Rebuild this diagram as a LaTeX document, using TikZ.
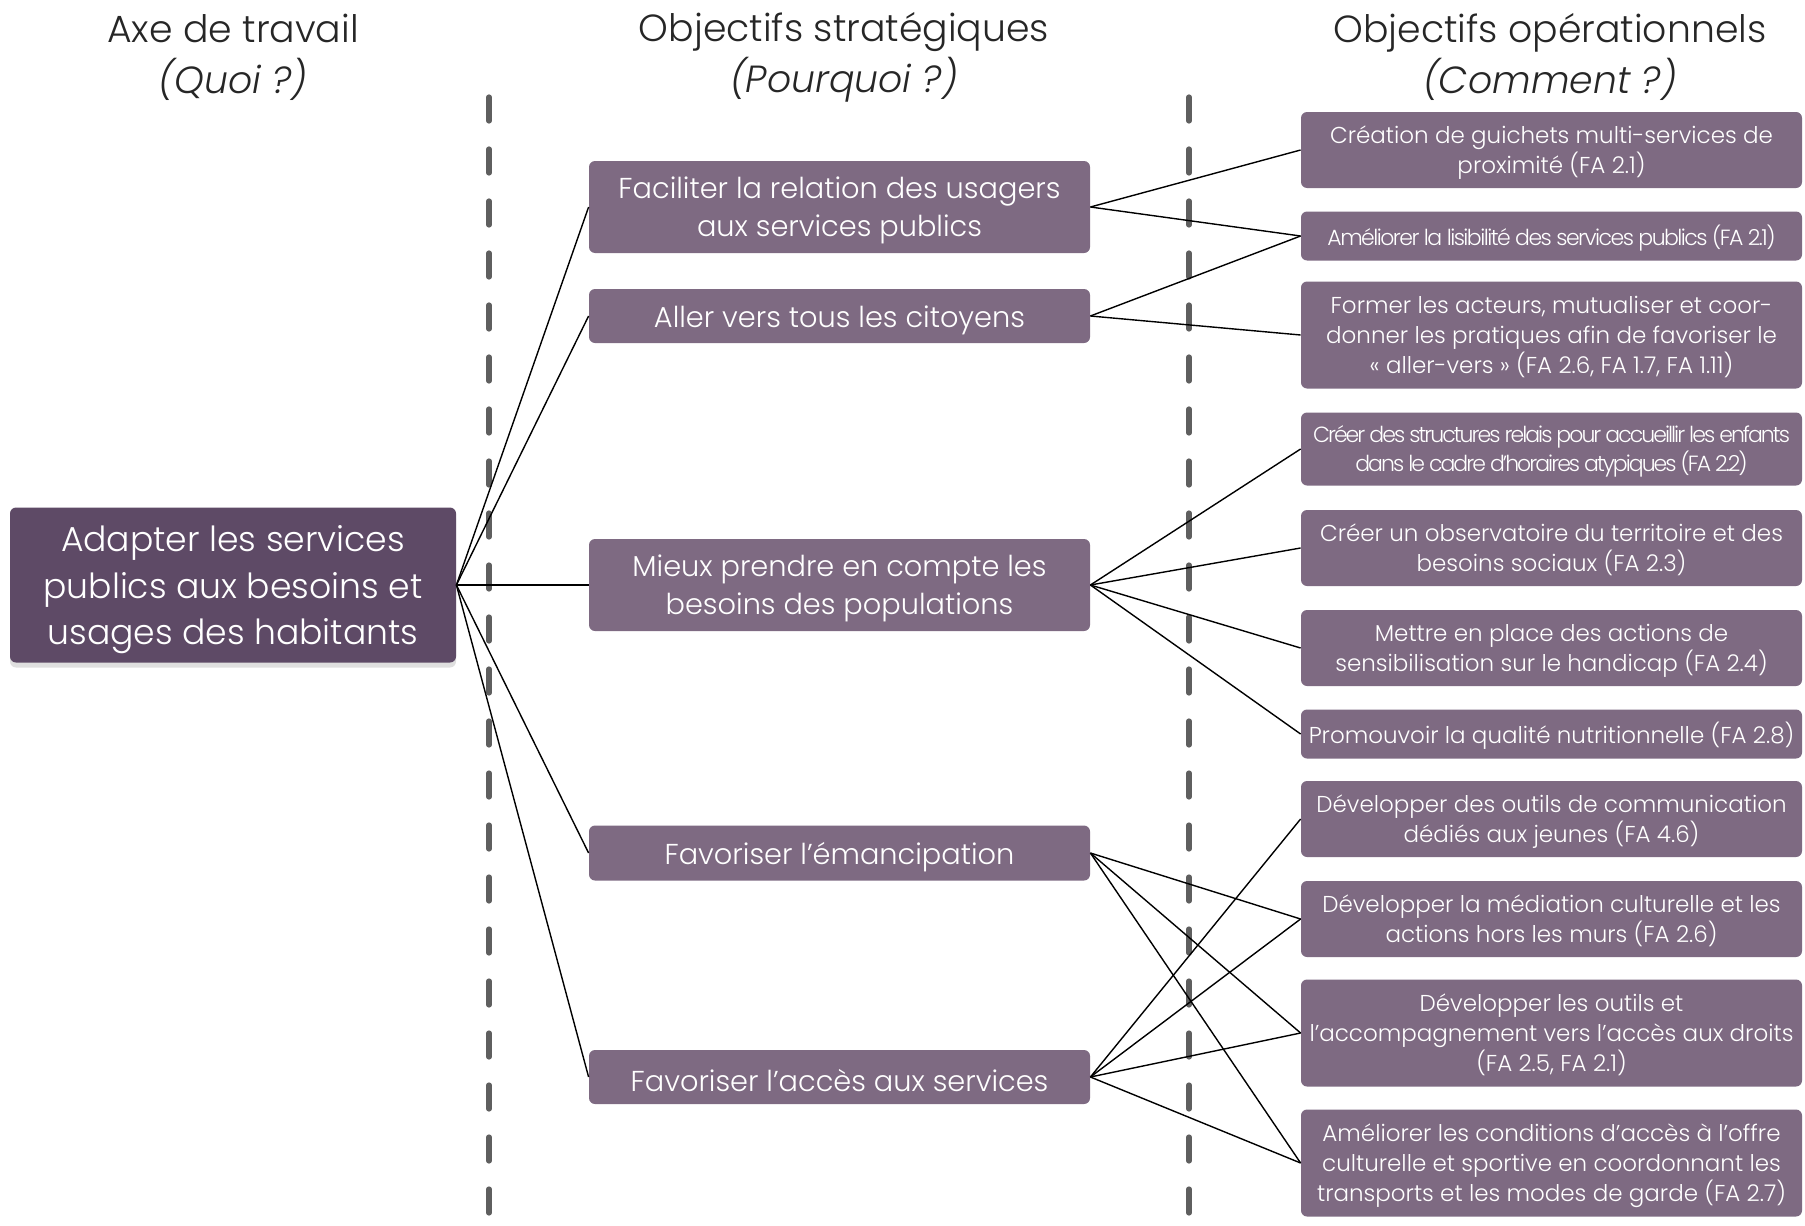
\documentclass[tikz,border=0pt]{standalone}
\usepackage{fontspec}
\setmainfont{Poppins}[UprightFont=* Light, ItalicFont=* Light Italic]
\usetikzlibrary{shadows}

\definecolor{plum}{HTML}{7E6A82}
\definecolor{darkplum}{HTML}{5E4A66}
\definecolor{sepgray}{HTML}{5F5F5F}

\begin{document}
\begin{tikzpicture}[x=0.5pt, y=-0.5pt,
    box/.style={fill=plum, rounded corners=3pt, text=white, align=center,
    inner sep=1pt},
    low/.style={text depth=#1},
    axis/.style={box, fill=darkplum, minimum width=223pt, minimum height=77.5pt,
    font=\fontsize{17.3}{23.3}\selectfont, low=-1.5pt,
    drop shadow={shadow xshift=0pt, shadow yshift=-2.5pt, opacity=0.25}},
    strat/.style={box, minimum width=250.5pt, font=\fontsize{14.4}{19}\selectfont,
    execute at begin node={\rule{0pt}{15pt}}},
    oper/.style={box, minimum width=250.5pt, font=\fontsize{11.5}{15}\selectfont,
    execute at begin node={\rule{0pt}{12.5pt}}},
    tight/.style={font=\fontsize{11}{14.5}\selectfont\addfontfeature{LetterSpace=#1}},
    head/.style={align=center, text=black!85, font=\fontsize{18.9}{25.5}\selectfont},
    sep/.style={sepgray, line width=2.6pt, line cap=round, dash pattern=on 12pt off 14pt},
    link/.style={black, line width=0.7pt}]
    \useasboundingbox (0,0) rectangle (1805,1226);

    % column titles
    \node[head] (h-axe) at (233,57) {Axe de travail\\\textit{(Quoi ?)}};
    \node[head] (h-strat) at (844,57) {Objectifs stratégiques\\\textit{(Pourquoi ?)}};
    \node[head] (h-oper) at (1550,57) {Objectifs opérationnels\\\textit{(Comment ?)}};

    % separators
    \draw[sep] (489,97) -- (489,1226);
    \draw[sep] (1189,97) -- (1189,1226);

    % axis
    \node[axis] (axe) at (233,585) {Adapter les services\\publics aux besoins et\\usages des habitants};

    % strategic objectives
    \node[strat, low=-2pt, minimum height=46pt] (faciliter) at (839.5,207) {Faciliter la relation des usagers\\aux services publics};
    \node[strat, minimum height=27pt] (aller) at (839.5,316) {Aller vers tous les citoyens};
    \node[strat, low=-2pt, minimum height=46pt] (besoins) at (839.5,585) {Mieux prendre en compte les\\besoins des populations};
    \node[strat, minimum height=27.5pt] (emancip) at (839.5,853) {Favoriser l’émancipation};
    \node[strat, minimum height=27pt] (acces) at (839.5,1077) {Favoriser l’accès aux services};

    % operational objectives
    \node[oper, low=-3pt, minimum height=38pt] (guichets) at (1551.5,150) {Création de guichets multi-services de\\proximité (FA 2.1)};
    \node[oper, tight=-7, minimum height=24.5pt] (lisibilite) at (1551.5,236) {Améliorer la lisibilité des services publics (FA 2.1)};
    \node[oper, low=-3pt, minimum height=53.5pt] (former) at (1551.5,335) {Former les acteurs, mutualiser et coor-\\donner les pratiques afin de favoriser le\\«~aller-vers~» (FA 2.6, FA 1.7, FA 1.11)};
    \node[oper, tight=-9, low=-3pt, minimum height=36.5pt] (relais) at (1551.5,449) {Créer des structures relais pour accueillir les enfants\\dans le cadre d’horaires atypiques (FA 2.2)};
    \node[oper, low=-3pt, minimum height=38pt] (observ) at (1551.5,548) {Créer un observatoire du territoire et des\\besoins sociaux (FA 2.3)};
    \node[oper, low=-3pt, minimum height=38pt] (handicap) at (1551.5,648) {Mettre en place des actions de\\sensibilisation sur le handicap (FA 2.4)};
    \node[oper, minimum height=24.5pt] (nutrition) at (1551.5,734) {Promouvoir la qualité nutritionnelle (FA 2.8)};
    \node[oper, low=-3pt, minimum height=38pt] (jeunes) at (1551.5,819) {Développer des outils de communication\\dédiés aux jeunes (FA 4.6)};
    \node[oper, low=-3pt, minimum height=38pt] (mediation) at (1551.5,919) {Développer la médiation culturelle et les\\actions hors les murs (FA 2.6)};
    \node[oper, low=-3pt, minimum height=53.5pt] (droits) at (1551.5,1033) {Développer les outils et\\l’accompagnement vers l’accès aux droits\\(FA 2.5, FA 2.1)};
    \node[oper, low=-3pt, minimum height=53.5pt] (offre) at (1551.5,1163) {Améliorer les conditions d’accès à l’offre\\culturelle et sportive en coordonnant les\\transports et les modes de garde (FA 2.7)};

    % axis -> strategic
    \draw[link] (axe.east) -- (faciliter.west);
    \draw[link] (axe.east) -- (aller.west);
    \draw[link] (axe.east) -- (besoins.west);
    \draw[link] (axe.east) -- (emancip.west);
    \draw[link] (axe.east) -- (acces.west);

    % strategic -> operational
    \draw[link] (faciliter.east) -- (guichets.west);
    \draw[link] (faciliter.east) -- (lisibilite.west);
    \draw[link] (aller.east) -- (lisibilite.west);
    \draw[link] (aller.east) -- (former.west);
    \draw[link] (besoins.east) -- (relais.west);
    \draw[link] (besoins.east) -- (observ.west);
    \draw[link] (besoins.east) -- (handicap.west);
    \draw[link] (besoins.east) -- (nutrition.west);
    \draw[link] (emancip.east) -- (mediation.west);
    \draw[link] (emancip.east) -- (droits.west);
    \draw[link] (emancip.east) -- (offre.west);
    \draw[link] (acces.east) -- (jeunes.west);
    \draw[link] (acces.east) -- (mediation.west);
    \draw[link] (acces.east) -- (droits.west);
    \draw[link] (acces.east) -- (offre.west);
\end{tikzpicture}
\end{document}
